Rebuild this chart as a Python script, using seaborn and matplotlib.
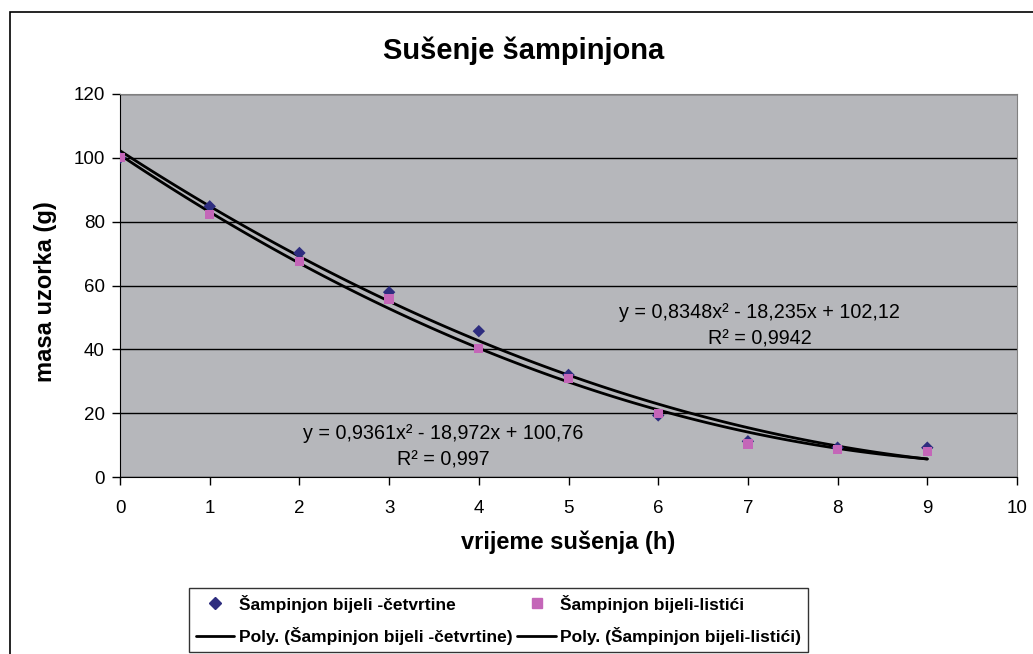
import matplotlib
matplotlib.use('Agg')
import matplotlib.pyplot as plt
import seaborn as sns
from matplotlib.lines import Line2D
from matplotlib.patches import Rectangle

hours = [0, 1, 2, 3, 4, 5, 6, 7, 8, 9]
cetvrtine = [100, 84.8, 70.2, 57.9, 45.7, 32.0, 19.3, 11.2, 9.2, 9.2]
listici = [100, 82.2, 67.6, 55.8, 40.2, 30.8, 20.0, 10.3, 8.7, 8.0]

label_a = 'Šampinjon bijeli -četvrtine'
label_b = 'Šampinjon bijeli-listići'
eq_a = 'y = 0,8348x² - 18,235x + 102,12\nR² = 0,9942'
eq_b = 'y = 0,9361x² - 18,972x + 100,76\nR² = 0,997'

sns.set_style('white', {'text.color': 'black', 'axes.labelcolor': 'black',
                        'xtick.color': 'black', 'ytick.color': 'black'})
plt.rcParams['font.family'] = ['Liberation Sans', 'DejaVu Sans']

fig = plt.figure(figsize=(10.33, 6.54), dpi=100)
ax = fig.add_axes([0.1162, 0.2706, 0.8683, 0.5857])
ax.set_facecolor('#b6b7bb')

# trendlines (2nd order polynomial, like Excel)
sns.regplot(x=hours, y=cetvrtine, order=2, ci=None, scatter=False, ax=ax,
            line_kws=dict(color='black', lw=2))
sns.regplot(x=hours, y=listici, order=2, ci=None, scatter=False, ax=ax,
            line_kws=dict(color='black', lw=2))

sns.scatterplot(x=hours, y=cetvrtine, marker='D', s=40, color='#2e2d7f',
                edgecolor='none', ax=ax, zorder=3)
sns.scatterplot(x=hours, y=listici, marker='s', s=45, color='#c466b8',
                edgecolor='none', ax=ax, zorder=3)

ax.set_xlim(0, 10)
ax.set_ylim(0, 120)
ax.set_xticks(range(0, 11))
ax.set_yticks(range(0, 121, 20))
ax.yaxis.grid(True, color='black', lw=1)
ax.set_axisbelow(True)
ax.tick_params(axis='both', direction='out', length=6, width=1, colors='black',
               labelsize=13.5, left=True, bottom=True)
ax.tick_params(axis='x', pad=10.5)
ax.tick_params(axis='y', pad=5)
for side in ['top', 'right']:
    ax.spines[side].set_color('#808080')
for side in ['left', 'bottom']:
    ax.spines[side].set_color('black')

ax.text(7.13, 47.4, eq_a, ha='center', va='center', fontsize=14.2,
        linespacing=1.45)
ax.text(3.6, 9.5, eq_b, ha='center', va='center', fontsize=14.2,
        linespacing=1.45)

ax.set_xlabel('vrijeme sušenja (h)', fontsize=17, fontweight='bold', va='center')
ax.set_ylabel('masa uzorka (g)', fontsize=17, fontweight='bold', va='center')
ax.xaxis.set_label_coords(0.5, -0.17)
ax.yaxis.set_label_coords(-0.0836, 0.484)
fig.text(0.507, 0.923, 'Sušenje šampinjona', ha='center', va='center',
         fontsize=21, fontweight='bold')

handles = [
    Line2D([], [], marker='D', ls='none', color='#2e2d7f', markersize=6),
    Line2D([], [], color='black', lw=2),
    Line2D([], [], marker='s', ls='none', color='#c466b8', markersize=6.5),
    Line2D([], [], color='black', lw=2),
]
labels = [label_a, 'Poly. (' + label_a + ')', label_b, 'Poly. (' + label_b + ')']
leg = fig.legend(handles, labels, ncol=2, loc='lower center',
                 bbox_to_anchor=(0.4826, 0.0), frameon=True, fancybox=False,
                 prop=dict(weight='bold', size=12.5), handlelength=2.2,
                 columnspacing=0.3, handletextpad=0.25, borderpad=0.4,
                 borderaxespad=0.1, labelspacing=0.85, edgecolor='black')
leg.get_frame().set_linewidth(1)

fig.patches.append(Rectangle((0.0097, -0.05), 1.05, 1.0317,
                             transform=fig.transFigure, fill=False,
                             edgecolor='black', lw=1.2))

fig.savefig('out.png', dpi=100)
